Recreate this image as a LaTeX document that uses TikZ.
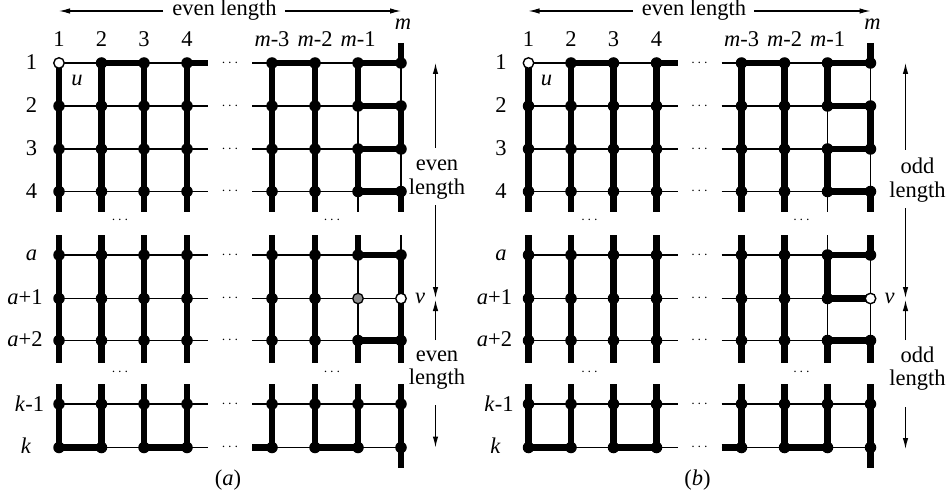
\documentclass[tikz,border=0pt]{standalone}
\usepackage{fontspec}
\setmainfont{Liberation Serif}
\usetikzlibrary{arrows.meta}
\tikzset{
  thinl/.style={line width=1.3pt},
  thickl/.style={line width=6.6pt},
  vdot/.style={circle,fill=black,inner sep=0pt,minimum size=11.5pt},
  odot/.style={circle,fill=white,draw=black,line width=1.4pt,inner sep=0pt,minimum size=10.5pt},
  gdot/.style={circle,fill=black!45,draw=black,line width=1.3pt,inner sep=0pt,minimum size=10.5pt},
  lbl/.style={font=\fontsize{22.5}{25}\selectfont,inner sep=0pt,anchor=base},
  dts/.style={font=\fontsize{14}{16}\selectfont,inner sep=0pt,anchor=base},
  dimar/.style={line width=1.2pt,-{Latex[length=11pt,width=5.5pt]}}
}
\newcommand\gridcoords[1]{%
  \foreach \j/\x in {1/59,2/101.5,3/144,4/187,5/272,6/315,7/358,8/401}{%
    \foreach \i/\y in {1/63,2/106,3/149,4/191.5,5/255,6/298.5,7/340.5,8/404,9/447.5}{%
      \coordinate (#1-\i-\j) at (\x,\y);}%
    \coordinate (#1-c\j-e1) at (\x,212);
    \coordinate (#1-c\j-s2) at (\x,235);
    \coordinate (#1-c\j-e2) at (\x,363);
    \coordinate (#1-c\j-s3) at (\x,384);
  }%
  \foreach \i/\y in {1/63,2/106,3/149,4/191.5,5/255,6/298.5,7/340.5,8/404,9/447.5}{%
    \coordinate (#1-\i-L) at (208,\y);
    \coordinate (#1-\i-R) at (252,\y);}%
  \coordinate (#1-up) at (401,43);
  \coordinate (#1-dn) at (401,468);
}
\newcommand\gridlines[1]{%
  \foreach \i in {1,...,9}{%
    \draw[thinl] (#1-\i-1) -- (#1-\i-L);
    \draw[thinl] (#1-\i-R) -- (#1-\i-8);}%
  \foreach \j in {7,8}{%
    \draw[thinl] (#1-1-\j) -- (#1-c\j-e1);
    \draw[thinl] (#1-c\j-s2) -- (#1-c\j-e2);
    \draw[thinl] (#1-c\j-s3) -- (#1-9-\j);}%
  \foreach \j in {1,...,6}{%
    \draw[thickl] (#1-1-\j) -- (#1-c\j-e1);
    \draw[thickl] (#1-c\j-s2) -- (#1-c\j-e2);
    \draw[thickl] (#1-c\j-s3) -- (#1-9-\j);}%
  \draw[thickl] (#1-1-2) -- (#1-1-3);
  \draw[thickl] (#1-1-4) -- (#1-1-L);
  \draw[thickl] (#1-1-5) -- (#1-1-6);
  \draw[thickl] (#1-1-7) -- (#1-1-8);
  \draw[thickl] (#1-9-1) -- (#1-9-2);
  \draw[thickl] (#1-9-3) -- (#1-9-4);
  \draw[thickl] (#1-9-R) -- (#1-9-5);
  \draw[thickl] (#1-9-6) -- (#1-9-7);
  \draw[thickl] (#1-1-7) -- (#1-2-7);
  \draw[thickl] (#1-3-7) -- (#1-4-7);
  \draw[thickl] (#1-up) -- (#1-1-8);
  \draw[thickl] (#1-2-8) -- (#1-3-8);
  \draw[thickl] (#1-4-8) -- (#1-c8-e1);
  \foreach \i in {2,3,4}{\draw[thickl] (#1-\i-7) -- (#1-\i-8);}%
  \draw[thickl] (#1-c7-s3) -- (#1-9-7);
  \draw[thickl] (#1-c8-s3) -- (#1-dn);
}
\newcommand\griddots[2]{%
  \foreach \i in {1,...,9}{\foreach \j in {1,...,8}{%
    \def\st{vdot}%
    \ifnum\i=1 \ifnum\j=1 \def\st{odot}\fi\fi
    \ifnum\i=6 \ifnum\j=8 \def\st{odot}\fi\fi
    \ifnum\i=6 \ifnum\j=7 \def\st{#2}\fi\fi
    \node[\st] (#1-n\i-\j) at (#1-\i-\j) {};}}%
}
\newcommand\gridlabels[1]{%
  \node[lbl] (#1-h1) at (59,47) {1};
  \node[lbl] (#1-h2) at (101.5,47) {2};
  \node[lbl] (#1-h3) at (144,47) {3};
  \node[lbl] (#1-h4) at (187,47) {4};
  \node[lbl] (#1-h5) at (272,47) {\textit{m}-3};
  \node[lbl] (#1-h6) at (315,47) {\textit{m}-2};
  \node[lbl] (#1-h7) at (358,47) {\textit{m}-1};
  \node[lbl] (#1-h8) at (403,30) {\textit{m}};
  \node[lbl] (#1-l1) at (31.5,70) {1};
  \node[lbl] (#1-l2) at (31.5,113) {2};
  \node[lbl] (#1-l3) at (31.5,156) {3};
  \node[lbl] (#1-l4) at (31.5,198.5) {4};
  \node[lbl] (#1-l5) at (31.5,260) {\textit{a}};
  \node[lbl] (#1-l6) at (25,304.5) {\textit{a}+1};
  \node[lbl] (#1-l7) at (25,346.5) {\textit{a}+2};
  \node[lbl] (#1-l8) at (29.5,411) {\textit{k}-1};
  \node[lbl] (#1-l9) at (26,453.5) {\textit{k}};
  \node[lbl] (#1-u) at (77,85.5) {\textit{u}};
  \node[lbl] (#1-v) at (420,303.5) {\textit{v}};
  \foreach \i/\y in {1/63,2/106,3/149,4/191.5,5/255,6/298.5,7/340.5,8/404,9/447.5}{%
    \node[dts] (#1-d\i) at (230,\y+3.4) {$\cdots$};}%
  \node[dts] (#1-g1) at (120,223) {$\cdots$};
  \node[dts] (#1-g2) at (332,223) {$\cdots$};
  \node[dts] (#1-g3) at (120,375) {$\cdots$};
  \node[dts] (#1-g4) at (332,375) {$\cdots$};
  \node[font=\fontsize{22.5}{25}\selectfont,inner sep=0pt] (#1-top) at (224.5,10.5) {even length};
  \coordinate (#1-topL) at (59,11);
  \coordinate (#1-topR) at (401,11);
  \draw[dimar] ([xshift=-9pt]#1-top.west |- #1-topL) -- (#1-topL);
  \draw[dimar] ([xshift=8pt]#1-top.east |- #1-topR) -- (#1-topR);
}
\begin{document}
\begin{tikzpicture}[x=1pt,y=-1pt]
\useasboundingbox (0,0) rectangle (947,497);
% ---------- panel (a)
\begin{scope}
  \gridcoords{a}
  \gridlines{a}
  \draw[thickl] (a-c7-s2) -- (a-5-7);
  \draw[thickl] (a-7-7) -- (a-c7-e2);
  \draw[thickl] (a-5-8) -- (a-c8-e2);
  \draw[thickl] (a-5-7) -- (a-5-8);
  \draw[thickl] (a-7-7) -- (a-7-8);
  \griddots{a}{gdot}
  \gridlabels{a}
  \node[lbl] (a-w1) at (437,171) {even};
  \node[lbl] (a-w2) at (437,194) {length};
  \node[lbl] (a-w3) at (437,361) {even};
  \node[lbl] (a-w4) at (437,384) {length};
  \coordinate (a-p1) at (435.5,148);
  \coordinate (a-t1) at (435.5,63);
  \coordinate (a-p2) at (435.5,205);
  \coordinate (a-t2) at (435.5,298);
  \coordinate (a-p3) at (435.5,340);
  \coordinate (a-t3) at (435.5,300);
  \coordinate (a-p4) at (435.5,405);
  \coordinate (a-t4) at (435.5,447.5);
  \draw[dimar] (a-p1) -- (a-t1);
  \draw[dimar] (a-p2) -- (a-t2);
  \draw[dimar] (a-p3) -- (a-t3);
  \draw[dimar] (a-p4) -- (a-t4);
  \node[lbl] (a-cap) at (228,485) {(\textit{a})};
\end{scope}
% ---------- panel (b)
\begin{scope}[xshift=469.5pt]
  \gridcoords{b}
  \gridlines{b}
  \draw[thickl] (b-5-7) -- (b-6-7);
  \draw[thickl] (b-7-7) -- (b-c7-e2);
  \draw[thickl] (b-c8-s2) -- (b-5-8);
  \draw[thickl] (b-7-8) -- (b-c8-e2);
  \draw[thickl] (b-5-7) -- (b-5-8);
  \draw[thickl] (b-6-7) -- (b-6-8);
  \draw[thickl] (b-7-7) -- (b-7-8);
  \griddots{b}{vdot}
  \gridlabels{b}
  \node[lbl] (b-w1) at (448,174) {odd};
  \node[lbl] (b-w2) at (448,197) {length};
  \node[lbl] (b-w3) at (448,362) {odd};
  \node[lbl] (b-w4) at (448,385) {length};
  \coordinate (b-p1) at (436,150);
  \coordinate (b-t1) at (436,63);
  \coordinate (b-p2) at (436,208);
  \coordinate (b-t2) at (436,298);
  \coordinate (b-p3) at (436,340);
  \coordinate (b-t3) at (436,300);
  \coordinate (b-p4) at (436,407);
  \coordinate (b-t4) at (436,449);
  \draw[dimar] (b-p1) -- (b-t1);
  \draw[dimar] (b-p2) -- (b-t2);
  \draw[dimar] (b-p3) -- (b-t3);
  \draw[dimar] (b-p4) -- (b-t4);
  \node[lbl] (b-cap) at (228,485) {(\textit{b})};
\end{scope}
\end{tikzpicture}
\end{document}
